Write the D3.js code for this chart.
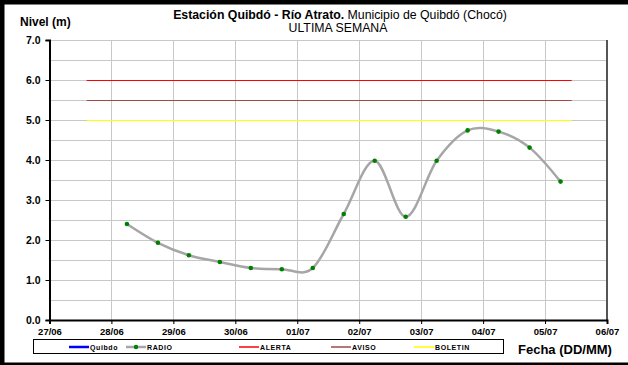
<!DOCTYPE html>
<html><head><meta charset="utf-8">
<script src="https://cdn.jsdelivr.net/npm/d3@7"></script>
<style>body{margin:0;background:#fff}svg{display:block;font-family:"Liberation Sans",Arial,sans-serif}</style>
</head><body><svg id="c" width="628" height="365"></svg>
<script>
// Data
const dayLabels = ["27/06","28/06","29/06","30/06","01/07","02/07","03/07","04/07","05/07","06/07"];
// times in days since 27/06 00:00 (readings every 12 h)
const radioTimes = [1.25,1.75,2.25,2.75,3.25,3.75,4.25,4.75,5.25,5.75,6.25,6.75,7.25,7.75,8.25];
const radioValues = [2.40,1.93,1.62,1.45,1.30,1.27,1.30,2.65,3.98,2.58,3.98,4.74,4.71,4.31,3.46];
const thresholdNames = ["ALERTA","AVISO","BOLETIN"];
const thresholdValues = [6.0,5.5,5.0];
const thresholdSpan = [0.6,8.43];
const yTicks = [0,1,2,3,4,5,6,7];
const legendNames = ["Quibdo","RADIO","ALERTA","AVISO","BOLETIN"];

const colors = {Quibdo:"#0000ff", RADIO:"#a6a6a6", ALERTA:"#ff0000", AVISO:"#a04848", BOLETIN:"#ffff00"};

const svg = d3.select("#c");
const L=49.5, R=607, T=40, B=320;
const x = d3.scaleLinear().domain([0,9]).range([L,R]);
const y = d3.scaleLinear().domain([0,7]).range([B,T]);

// outer frame (top, left, bottom)
svg.append("rect").attr("x",0).attr("y",0).attr("width",628).attr("height",4.5).attr("fill","#000");
svg.append("rect").attr("x",0).attr("y",0).attr("width",4.5).attr("height",365).attr("fill","#000");
svg.append("rect").attr("x",0).attr("y",362.5).attr("width",628).attr("height",3).attr("fill","#000");

// grid
const g = svg.append("g");
g.selectAll(".hg").data(d3.range(0.5,7.01,0.5)).join("line")
  .attr("x1",L).attr("x2",R).attr("y1",d=>Math.round(y(d))+0.5).attr("y2",d=>Math.round(y(d))+0.5)
  .attr("stroke","#c8c8c8").attr("stroke-width",1);
g.selectAll(".vg").data(d3.range(1,9)).join("line")
  .attr("x1",d=>Math.round(x(d))+0.5).attr("x2",d=>Math.round(x(d))+0.5).attr("y1",T).attr("y2",B+4)
  .attr("stroke","#c8c8c8").attr("stroke-width",1);
// right border
svg.append("line").attr("x1",R).attr("x2",R).attr("y1",T).attr("y2",B).attr("stroke","#555").attr("stroke-width",2);

// thresholds
svg.selectAll(".th").data(thresholdValues).join("line")
  .attr("x1",x(thresholdSpan[0])).attr("x2",x(thresholdSpan[1]))
  .attr("y1",d=>Math.round(y(d))+0.5).attr("y2",d=>Math.round(y(d))+0.5)
  .attr("stroke",(d,i)=>colors[thresholdNames[i]]).attr("stroke-width",1.2);

// radio series
const pts = radioTimes.map((t,i)=>[t,radioValues[i]]);
const line = d3.line().x(d=>x(d[0])).y(d=>y(d[1])).curve(d3.curveCardinal.tension(0));
svg.append("path").datum(pts).attr("d",line).attr("fill","none").attr("stroke",colors.RADIO).attr("stroke-width",2.5);
svg.selectAll(".pt").data(pts).join("circle").attr("cx",d=>x(d[0])).attr("cy",d=>y(d[1])).attr("r",2.3).attr("fill","#008000");

// axes
const ya = svg.append("g").attr("transform",`translate(${L},0)`)
  .call(d3.axisLeft(y).tickValues(yTicks).tickFormat(d3.format(".1f")).tickSize(4).tickPadding(5));
ya.select(".domain").attr("stroke","#000").attr("stroke-width",2);
ya.selectAll("text").attr("font-size",10.5).attr("font-weight","bold").attr("fill","#000").attr("font-family","Liberation Sans, Arial");
ya.selectAll(".tick line").attr("stroke","#000");

const xa = svg.append("g").attr("transform",`translate(0,${B})`)
  .call(d3.axisBottom(x).tickValues(d3.range(0,10)).tickFormat(i=>dayLabels[i]).tickSize(4).tickPadding(4));
xa.select(".domain").attr("stroke","#000").attr("stroke-width",2);
xa.selectAll("text").attr("font-size",9.5).attr("font-weight","bold").attr("fill","#000").attr("font-family","Liberation Sans, Arial");
xa.selectAll(".tick line").attr("stroke","#000");

// titles
const t1 = svg.append("text").attr("x",340).attr("y",19).attr("text-anchor","middle").attr("font-size",12.3).attr("fill","#000");
t1.append("tspan").attr("font-weight","bold").text("Estación Quibdó - Río Atrato.");
t1.append("tspan").text(" Municipio de Quibdó (Chocó)");
svg.append("text").attr("x",338).attr("y",32).attr("text-anchor","middle").attr("font-size",12.3).attr("fill","#000").text("ULTIMA SEMANA");
svg.append("text").attr("x",20).attr("y",26).attr("font-size",12).attr("font-weight","bold").attr("fill","#000").text("Nivel (m)");
svg.append("text").attr("x",518).attr("y",354).attr("font-size",13).attr("font-weight","bold").attr("fill","#000").text("Fecha (DD/MM)");

// legend
svg.append("rect").attr("x",33.5).attr("y",339.5).attr("width",470).attr("height",14).attr("fill","#fff").attr("stroke","#000").attr("stroke-width",1);
const legX = [69,126,239,331,414];
const lg = svg.selectAll(".lg").data(legendNames).join("g").attr("transform",(d,i)=>`translate(${legX[i]},347)`);
lg.append("line").attr("x1",0).attr("x2",20).attr("y1",0).attr("y2",0).attr("stroke",d=>colors[d]).attr("stroke-width",d=>d==="Quibdo"?2.5:(d==="RADIO"?2.5:1.5));
lg.filter(d=>d==="RADIO").append("circle").attr("cx",10).attr("cy",0).attr("r",2.2).attr("fill","#008000");
lg.append("text").attr("x",21).attr("y",3).attr("font-size",7).attr("font-weight","bold").attr("letter-spacing",0.6).attr("fill","#000").text(d=>d);
</script></body></html>
